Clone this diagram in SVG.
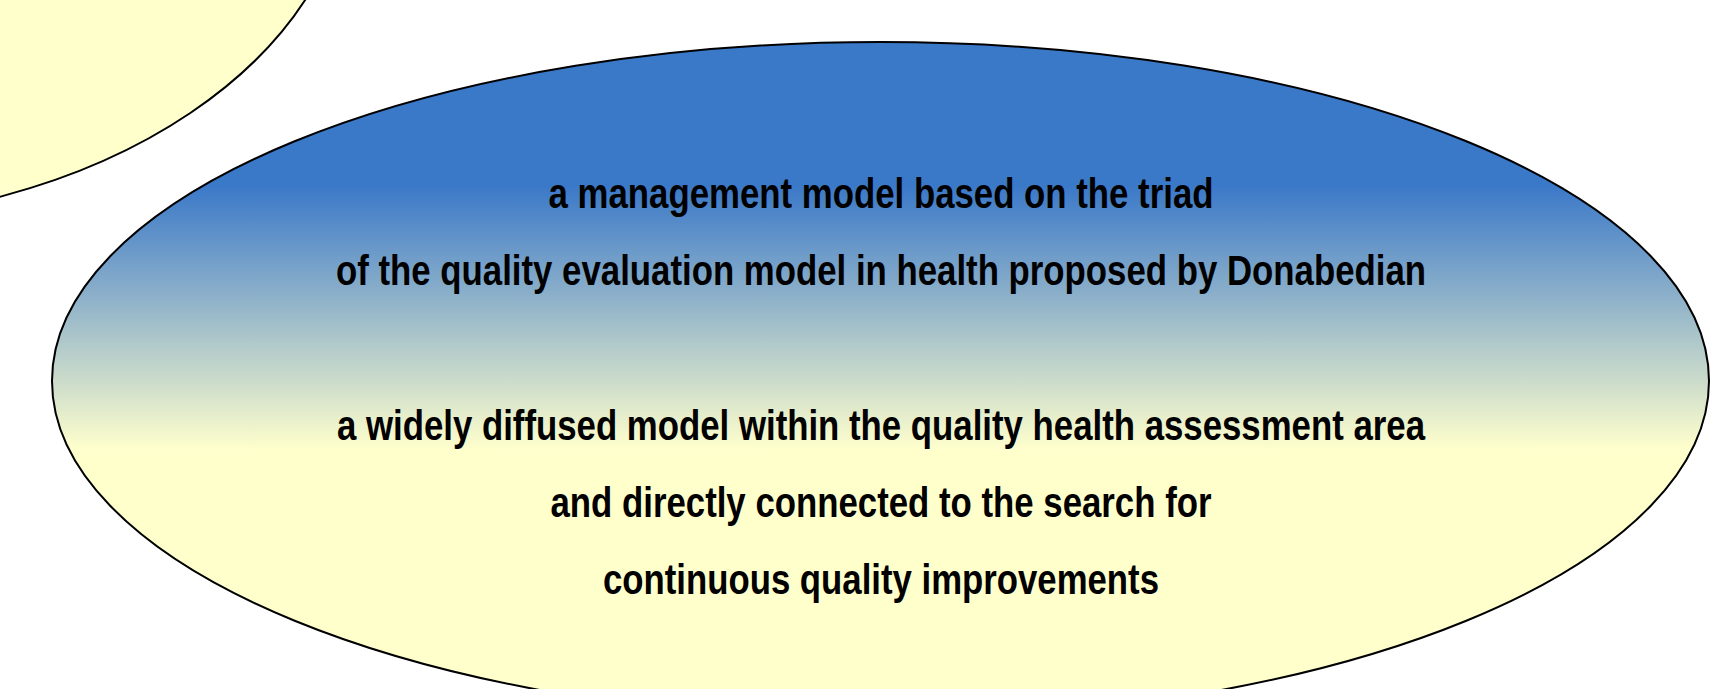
<svg xmlns="http://www.w3.org/2000/svg" width="1720" height="689" viewBox="0 0 1720 689">
  <defs>
    <linearGradient id="bigGrad" gradientUnits="userSpaceOnUse" x1="0" y1="185" x2="0" y2="450">
      <stop offset="0" stop-color="#3A78C8"/>
      <stop offset="1" stop-color="#FFFFCC"/>
    </linearGradient>
    <style>
      .shape { stroke: #000000; stroke-width: 2; }
      .label { font-family: "Liberation Sans", Arial, sans-serif; font-weight: bold; font-size: 43px; fill: #000000; text-anchor: middle; }
    </style>
  </defs>
  <rect x="0" y="0" width="1720" height="689" fill="#FFFFFF"/>
  <g id="node-top-left">
    <ellipse class="shape" cx="-200" cy="-150" rx="552" ry="372" fill="#FFFFCC"/>
  </g>
  <g id="node-main">
    <ellipse class="shape" cx="880.5" cy="381" rx="828.5" ry="339" fill="url(#bigGrad)"/>
    <text class="label" x="881" y="208" textLength="665" lengthAdjust="spacingAndGlyphs">a management model based on the triad</text>
    <text class="label" x="881" y="285" textLength="1090" lengthAdjust="spacingAndGlyphs">of the quality evaluation model in health proposed by Donabedian</text>
    <text class="label" x="881" y="440" textLength="1088" lengthAdjust="spacingAndGlyphs">a widely diffused model within the quality health assessment area</text>
    <text class="label" x="881" y="517" textLength="661" lengthAdjust="spacingAndGlyphs">and directly connected to the search for</text>
    <text class="label" x="881" y="594" textLength="556" lengthAdjust="spacingAndGlyphs">continuous quality improvements</text>
  </g>
  <g id="connectors"/>
</svg>
